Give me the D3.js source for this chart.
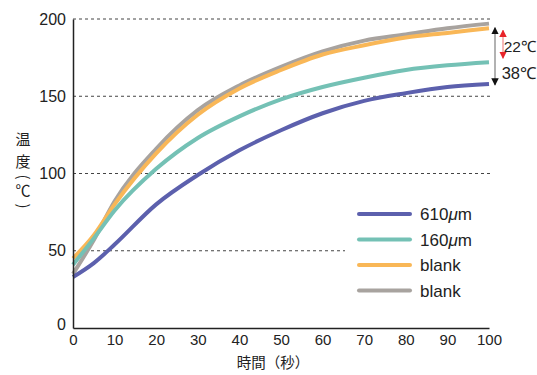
<!DOCTYPE html>
<meta charset="utf-8">
<script src="https://d3js.org/d3.v7.min.js"></script>
<style>
body {margin: 0; background: white;}
text {font-family: "Liberation Sans", Arial, sans-serif; fill: #222;}
.grid line {stroke: #444; stroke-dasharray: 3,3; stroke-width: 1;}
</style>
<body>
<svg width=537 height=375></svg>
<script>
// time (s)
var times = [0, 5, 10, 20, 30, 40, 50, 60, 70, 80, 90, 100];
var s610 = [33, 42, 54, 80, 99, 115, 128, 139, 147, 152, 156, 158];
var s160 = [41, 58, 76, 103, 123, 137, 148, 156, 162, 167, 170, 172];
var blankA = [45, 60, 80, 113, 138, 155, 167, 177, 183, 188, 191, 194];
var blankB = [35, 57, 82, 116, 141, 157, 169, 179, 186, 190, 194, 197];
var names = ["610μm", "160μm", "blank", "blank"];
var colors = ["#5c60ad", "#74c1b5", "#f9b757", "#a8a39f"];
var xTicks = [0, 10, 20, 30, 40, 50, 60, 70, 80, 90, 100];
var yTicks = [0, 50, 100, 150, 200];

var svg = d3.select("svg");
var x = d3.scaleLinear().domain([0, 100]).range([73, 489]);
var y = d3.scaleLinear().domain([0, 200]).range([328, 19]);

// dashed grid
var grid = svg.append("g").attr("class", "grid");
grid.selectAll("line").data(yTicks.filter(function(d) { return d > 0; }))
  .enter().append("line")
  .attr("x1", x(0))
  .attr("x2", function(d) { return d == 50 ? 345 : x(100) + 1; })
  .attr("y1", function(d) { return y(d); })
  .attr("y2", function(d) { return y(d); });

// curves, gray drawn first so orange sits over it
var series = [s610, s160, blankA, blankB];
var order = [3, 2, 1, 0];
var line = d3.line()
  .x(function(d, i) { return x(times[i]); })
  .y(function(d) { return y(d); })
  .curve(d3.curveMonotoneX);
order.forEach(function(k) {
  svg.append("path")
    .attr("d", line(series[k]))
    .attr("fill", "none")
    .attr("stroke", colors[k])
    .attr("stroke-width", 4);
});

// axes
var yAxis = svg.append("g").attr("transform", "translate(" + x(0) + ",0)")
  .call(d3.axisLeft(y).tickValues(yTicks).tickSize(0).tickPadding(7));
var xAxis = svg.append("g").attr("transform", "translate(0," + y(0) + ")")
  .call(d3.axisBottom(x).tickValues(xTicks).tickSize(0).tickPadding(6));
[xAxis, yAxis].forEach(function(a) {
  a.select(".domain").attr("stroke", "#222").attr("stroke-width", 1.5);
  a.selectAll("text").style("font-size", "16px").attr("fill", "#222");
});
xAxis.selectAll("text").style("font-size", "15px");
yAxis.selectAll(".tick").filter(function(d) { return d == 0; })
  .select("text").attr("dy", "0.1em");

// axis titles
svg.append("text")
  .attr("x", 273).attr("y", 368)
  .attr("text-anchor", "middle")
  .style("font-family", "'Noto Sans CJK JP', sans-serif")
  .style("font-size", "14.5px")
  .text("時間（秒）");
// vertical y title, one glyph per row, brackets turned
var ytitle = ["温", "度", "(", "℃", ")"];
var ypos = [140, 162, 177, 191, 206];
ytitle.forEach(function(c, i) {
  var t = svg.append("text")
    .attr("text-anchor", "middle")
    .attr("dy", "0.35em")
    .style("font-family", "'Noto Sans CJK JP', sans-serif")
    .style("font-size", "15px")
    .text(c);
  if (c == "(" || c == ")") {
    t.attr("transform", "translate(23," + ypos[i] + ") rotate(90)");
  } else {
    t.attr("x", 23).attr("y", ypos[i]);
  }
});

// legend
var leg = svg.append("g");
names.forEach(function(n, i) {
  var ly = 214 + i * 25.5;
  leg.append("line")
    .attr("x1", 359).attr("x2", 410)
    .attr("y1", ly).attr("y2", ly)
    .attr("stroke", colors[i]).attr("stroke-width", 4)
    .attr("stroke-linecap", "round");
  var t = leg.append("text")
    .attr("x", 420).attr("y", ly + 6)
    .style("font-size", "17px");
  if (n.indexOf("μ") > 0) {
    t.append("tspan").text(n.split("μ")[0]);
    t.append("tspan").style("font-style", "italic").text("μ");
    t.append("tspan").text(n.split("μ")[1]);
  } else {
    t.text(n);
  }
});

// difference arrows
var defs = svg.append("defs");
function marker(id, c) {
  defs.append("marker").attr("id", id)
    .attr("viewBox", "0 0 10 10").attr("refX", 9).attr("refY", 5)
    .attr("markerWidth", 5).attr("markerHeight", 5)
    .attr("orient", "auto-start-reverse")
    .append("path").attr("d", "M0,0L10,5L0,10Z").attr("fill", c);
}
marker("ab", "#111");
marker("ar", "#e8242a");
svg.append("line")
  .attr("x1", 495).attr("x2", 495)
  .attr("y1", y(blankB[11]) + 4).attr("y2", y(s610[11]) + 1)
  .attr("stroke", "#999").attr("stroke-width", 1.5)
  .attr("marker-start", "url(#ab)").attr("marker-end", "url(#ab)");
svg.append("line")
  .attr("x1", 503).attr("x2", 503)
  .attr("y1", y(blankA[11]) + 2).attr("y2", y(s160[11]) - 4)
  .attr("stroke", "#f4a0a0").attr("stroke-width", 1.5)
  .attr("marker-start", "url(#ar)").attr("marker-end", "url(#ar)");
svg.append("text").attr("x", 536).attr("y", 52)
  .attr("text-anchor", "end")
  .style("font-size", "15.5px").text("22℃");
svg.append("text").attr("x", 536).attr("y", 79)
  .attr("text-anchor", "end")
  .style("font-size", "16.5px").text("38℃");
</script>
</body>
